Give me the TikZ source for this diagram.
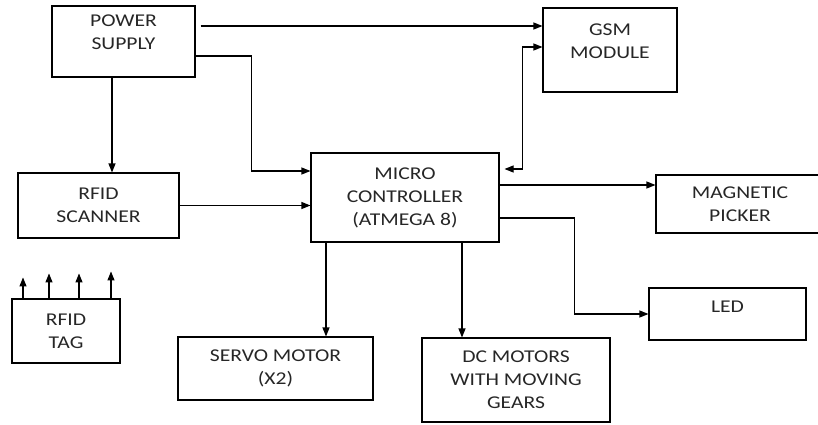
\documentclass[tikz,border=0pt]{standalone}
\usepackage{fontspec}
\setmainfont{Carlito}[FakeStretch=1.2]
\usetikzlibrary{arrows.meta, positioning, calc}

\tikzset{
  block/.style={draw, line width=1.1pt, align=center, inner sep=0pt,
    font=\fontsize{18}{23}\selectfont, text=black!85},
  arr/.style={line width=1.1pt, -{Triangle[length=9pt,width=7pt]}},
  biarr/.style={line width=1.1pt, {Triangle[length=9pt,width=7pt]}-{Triangle[length=9pt,width=7pt]}},
  raised/.style={text depth=#1},
}

\begin{document}
\begin{tikzpicture}[x=1pt, y=-1pt]
  \useasboundingbox (0,0) rectangle (818,425);
  \clip (0,0) rectangle (818,425);

  % blocks
  \node[block, minimum width=143pt, minimum height=71pt, raised=18pt] (ps) at (123.5,41.5) {POWER\\SUPPLY};
  \node[block, minimum width=134pt, minimum height=84pt, raised=17pt] (gsm) at (610,50) {GSM\\MODULE};
  \node[block, minimum width=161pt, minimum height=65pt] (rs) at (98.5,205.5) {RFID\\SCANNER};
  \node[block, minimum width=108pt, minimum height=64pt] (tag) at (66,331) {RFID\\TAG};
  \node[block, minimum width=188pt, minimum height=89pt] (mc) at (405,197.5) {MICRO\\CONTROLLER\\(ATMEGA 8)};
  \node[block, minimum width=168pt, minimum height=58pt] (mag) at (740,204) {MAGNETIC\\PICKER};
  \node[block, minimum width=157pt, minimum height=52pt, raised=14pt] (led) at (727.5,314) {LED};
  \node[block, minimum width=195pt, minimum height=63pt] (servo) at (275.5,368.5) {SERVO MOTOR\\(X2)};
  \node[block, minimum width=188pt, minimum height=84pt] (dc) at (516,380) {DC MOTORS\\WITH MOVING\\GEARS};

  % power lines
  \draw[arr] ([xshift=5pt,yshift=15.5pt]ps.east) -- ([yshift=24pt]gsm.west);
  \draw[arr] ([yshift=-14.5pt]ps.east) -- ++(56,0) |- ([yshift=26.5pt]mc.west);
  \draw[arr] ([xshift=-11.5pt]ps.south) -- ([xshift=-11.5pt]ps.south |- rs.north);

  % gsm link
  \draw[biarr] ([xshift=5pt,yshift=28.5pt]mc.east) -| ++(18,-122) -- ([yshift=3pt]gsm.west);

  % inputs and outputs
  \draw[arr] (rs.east) -- (rs.east -| mc.west);
  \draw[arr] ([yshift=12.5pt]mc.east) -- ([yshift=12.5pt]mc.east -| mag.west);
  \draw[arr] ([yshift=-20.5pt]mc.east) -- ++(75,0) |- (led.west);
  \draw[arr] ([xshift=-79pt]mc.south) -- ([xshift=-79pt]mc.south |- servo.north);
  \draw[arr] ([xshift=57pt]mc.south) -- ([xshift=57pt]mc.south |- dc.north);

  % tag signal
  \foreach \dx/\len in {-43/21,-17/25,13/25,45/27} {
    \draw[arr] ([xshift=\dx pt]tag.north) -- ++(0,-\len);
  }
\end{tikzpicture}
\end{document}
